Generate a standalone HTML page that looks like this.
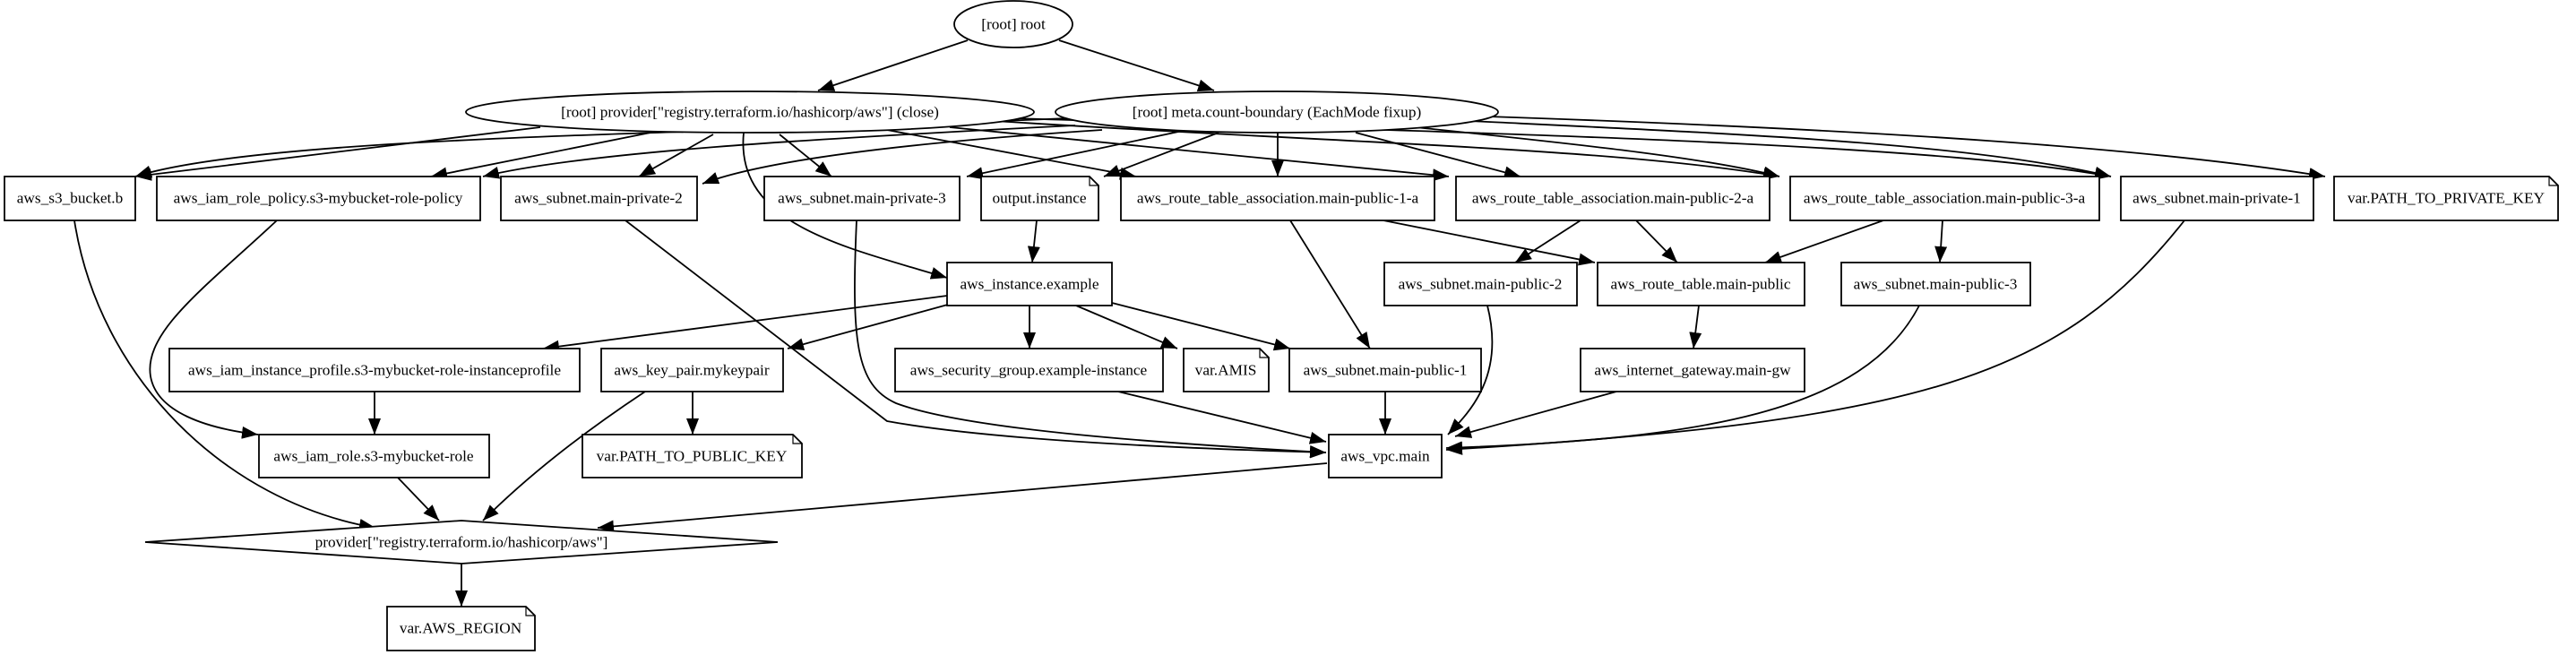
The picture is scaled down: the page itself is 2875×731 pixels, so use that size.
<!DOCTYPE html>
<html><head><meta charset="utf-8"><style>
html,body{margin:0;padding:0;background:#fff;}
svg{display:block;}
text{font-family:"Liberation Serif",serif;font-size:17.3px;fill:#000;text-anchor:middle;dominant-baseline:central;}
.n{fill:#fff;stroke:#000;stroke-width:1.8;}
.e{fill:none;stroke:#000;stroke-width:1.8;marker-end:url(#a);}
</style></head><body>
<svg width="2875" height="731" viewBox="0 0 2875 731" xmlns="http://www.w3.org/2000/svg">
<defs><marker id="a" markerUnits="userSpaceOnUse" markerWidth="20" markerHeight="16" refX="18" refY="7" orient="auto"><polygon points="0,0 18,7 0,14" fill="#000"/></marker></defs>

<path class="e" d="M1080,45 L913,101"/>
<path class="e" d="M1182,45 L1355,101"/>
<path class="e" d="M603,142 L151,197"/>
<path class="e" d="M726,148 L481,197"/>
<path class="e" d="M796,150 L713,197"/>
<path class="e" d="M870,150 L928,197"/>
<path class="e" d="M830,148 C820,250 940,275 1057,310"/>
<path class="e" d="M990,145 L1268,197"/>
<path class="e" d="M1060,142 L1617,197"/>
<path class="e" d="M1110,135 C1500,160 1800,165 1986,197"/>
<path class="e" d="M1130,132 C1700,150 2150,160 2356,197"/>
<path class="e" d="M1190,132 C800,150 300,150 151,197"/>
<path class="e" d="M1200,140 C900,155 650,170 539,197"/>
<path class="e" d="M1230,145 C1000,160 850,180 784,205"/>
<path class="e" d="M1320,146 L1079,197"/>
<path class="e" d="M1360,148 L1232,197"/>
<path class="e" d="M1426,148 L1426,197"/>
<path class="e" d="M1513,148 L1697,197"/>
<path class="e" d="M1580,142 C1750,160 1900,175 1986,197"/>
<path class="e" d="M1640,135 C1950,150 2200,160 2356,197"/>
<path class="e" d="M1660,130 C2100,145 2400,165 2595,197"/>
<path class="e" d="M1157,246 L1152,293"/>
<path class="e" d="M1440,246 L1529,389"/>
<path class="e" d="M1544,246 L1780,293"/>
<path class="e" d="M1764,246 L1691,293"/>
<path class="e" d="M1826,246 L1872,293"/>
<path class="e" d="M2102,246 L1970,293"/>
<path class="e" d="M2168,246 L2165,293"/>
<path class="e" d="M2438,246 C2300,420 2150,470 1614,502"/>
<path class="e" d="M2142,341 C2080,460 1900,490 1614,500"/>
<path class="e" d="M1660,341 C1680,420 1640,460 1616,485"/>
<path class="e" d="M1896,341 L1890,389"/>
<path class="e" d="M1804,437 L1624,487"/>
<path class="e" d="M1546,437 L1546,485"/>
<path class="e" d="M1248,437 L1480,493"/>
<path class="e" d="M956,246 C950,380 955,430 1000,450 C1080,480 1300,495 1480,505"/>
<path class="e" d="M698,246 L990,470 C1100,490 1300,500 1480,505"/>
<path class="e" d="M309,246 C230,320 160,370 168,420 C175,460 230,478 288,485"/>
<path class="e" d="M83,246 C110,420 250,560 419,589"/>
<path class="e" d="M444,533 L490,581"/>
<path class="e" d="M720,437 C640,490 580,540 539,581"/>
<path class="e" d="M1481,517 L667,589"/>
<path class="e" d="M515,629 L515,677"/>
<path class="e" d="M1057,330 L606,389"/>
<path class="e" d="M1065,338 L879,389"/>
<path class="e" d="M1149,341 L1149,389"/>
<path class="e" d="M1201,341 L1314,389"/>
<path class="e" d="M1241,338 L1440,389"/>
<path class="e" d="M773,437 L773,485"/>
<path class="e" d="M418,437 L418,485"/>

<ellipse class="n" cx="1131" cy="27" rx="66" ry="26"/><text x="1131" y="27">[root] root</text>
<ellipse class="n" cx="837" cy="125" rx="317" ry="23"/><text x="837" y="125">[root] provider["registry.terraform.io/hashicorp/aws"] (close)</text>
<ellipse class="n" cx="1425" cy="125" rx="247" ry="23"/><text x="1425" y="125">[root] meta.count-boundary (EachMode fixup)</text>

<rect class="n" x="5" y="197" width="146" height="49"/><text x="78" y="221">aws_s3_bucket.b</text>
<rect class="n" x="175" y="197" width="361" height="49"/><text x="355" y="221">aws_iam_role_policy.s3-mybucket-role-policy</text>
<rect class="n" x="559" y="197" width="219" height="49"/><text x="668" y="221">aws_subnet.main-private-2</text>
<rect class="n" x="853" y="197" width="218" height="49"/><text x="962" y="221">aws_subnet.main-private-3</text>
<path class="n" d="M1095,197 H1216 L1226,207 V246 H1095 Z"/><path d="M1216,197 V207 H1226" fill="none" stroke="#000" stroke-width="1.2"/><text x="1160" y="221">output.instance</text>
<rect class="n" x="1251" y="197" width="350" height="49"/><text x="1426" y="221">aws_route_table_association.main-public-1-a</text>
<rect class="n" x="1625" y="197" width="350" height="49"/><text x="1800" y="221">aws_route_table_association.main-public-2-a</text>
<rect class="n" x="1998" y="197" width="345" height="49"/><text x="2170" y="221">aws_route_table_association.main-public-3-a</text>
<rect class="n" x="2367" y="197" width="215" height="49"/><text x="2474" y="221">aws_subnet.main-private-1</text>
<path class="n" d="M2605,197 H2845 L2855,207 V246 H2605 Z"/><path d="M2845,197 V207 H2855" fill="none" stroke="#000" stroke-width="1.2"/><text x="2730" y="221">var.PATH_TO_PRIVATE_KEY</text>

<rect class="n" x="1057" y="293" width="184" height="48"/><text x="1149" y="317">aws_instance.example</text>
<rect class="n" x="1545" y="293" width="215" height="48"/><text x="1652" y="317">aws_subnet.main-public-2</text>
<rect class="n" x="1783" y="293" width="231" height="48"/><text x="1898" y="317">aws_route_table.main-public</text>
<rect class="n" x="2055" y="293" width="211" height="48"/><text x="2160" y="317">aws_subnet.main-public-3</text>

<rect class="n" x="189" y="389" width="458" height="48"/><text x="418" y="413">aws_iam_instance_profile.s3-mybucket-role-instanceprofile</text>
<rect class="n" x="671" y="389" width="203" height="48"/><text x="772" y="413">aws_key_pair.mykeypair</text>
<rect class="n" x="999" y="389" width="299" height="48"/><text x="1148" y="413">aws_security_group.example-instance</text>
<path class="n" d="M1321,389 H1406 L1416,399 V437 H1321 Z"/><path d="M1406,389 V399 H1416" fill="none" stroke="#000" stroke-width="1.2"/><text x="1368" y="413">var.AMIS</text>
<rect class="n" x="1439" y="389" width="214" height="48"/><text x="1546" y="413">aws_subnet.main-public-1</text>
<rect class="n" x="1764" y="389" width="250" height="48"/><text x="1889" y="413">aws_internet_gateway.main-gw</text>

<rect class="n" x="289" y="485" width="257" height="48"/><text x="417" y="509">aws_iam_role.s3-mybucket-role</text>
<path class="n" d="M650,485 H885 L895,495 V533 H650 Z"/><path d="M885,485 V495 H895" fill="none" stroke="#000" stroke-width="1.2"/><text x="772" y="509">var.PATH_TO_PUBLIC_KEY</text>
<rect class="n" x="1483" y="485" width="126" height="48"/><text x="1546" y="509">aws_vpc.main</text>

<polygon class="n" points="162,605 515,581 868,605 515,629"/><text x="515" y="605">provider["registry.terraform.io/hashicorp/aws"]</text>
<path class="n" d="M432,677 H587 L597,687 V726 H432 Z"/><path d="M587,677 V687 H597" fill="none" stroke="#000" stroke-width="1.2"/><text x="514" y="701">var.AWS_REGION</text>
</svg>
</body></html>
